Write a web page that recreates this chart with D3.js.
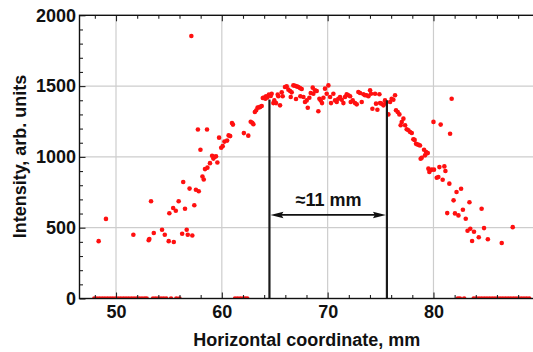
<!DOCTYPE html>
<html>
<head>
<meta charset="utf-8">
<script src="https://cdn.jsdelivr.net/npm/d3@7"></script>
<style>
  html, body { margin: 0; padding: 0; background: #fff; }
  svg { display: block; }
  text { font-family: "Liberation Sans", Arial, sans-serif; font-weight: bold; }
</style>
</head>
<body>
<svg id="chart" width="533" height="352"></svg>
<script>
// ---------------- data ----------------
const pointX = [
  48.36, 49.05, 51.64, 53.09, 53.15, 53.31, 53.57, 54.35, 54.61, 54.98,
  55.04, 55.40, 55.46, 55.65, 55.92, 56.25, 56.35, 56.52, 56.68, 56.78,
  56.95, 57.12, 57.21, 57.40, 57.55, 57.74, 57.82, 57.98, 58.17, 58.29,
  58.41, 58.60, 58.64, 58.88, 59.08, 59.20, 59.30, 59.45, 59.58, 59.74,
  59.94, 60.08, 60.25, 60.50, 60.64, 60.79, 60.96, 61.05, 62.08, 62.50,
  62.73, 62.88, 62.98, 63.12, 63.25, 63.38, 63.50, 63.62, 63.77, 63.87,
  63.99, 64.12, 64.18, 64.30, 64.45, 64.62, 64.71, 64.87, 64.96, 65.12,
  65.28, 65.34, 65.50, 65.66, 65.75, 65.97, 66.13, 66.29, 66.45, 66.51,
  66.60, 66.76, 66.92, 67.01, 67.08, 67.23, 67.39, 67.42, 67.55, 67.71,
  67.86, 68.02, 68.12, 68.27, 68.40, 68.59, 68.65, 68.81, 68.97, 69.12,
  69.22, 69.34, 69.47, 69.60, 69.75, 69.91, 70.07, 70.23, 70.32, 70.54,
  70.70, 70.86, 71.01, 71.17, 71.33, 71.49, 71.64, 71.80, 71.96, 72.12,
  72.18, 72.37, 72.59, 72.75, 72.90, 73.06, 73.22, 73.38, 73.53, 73.69,
  73.85, 74.01, 74.10, 74.23, 74.48, 74.57, 74.70, 74.89, 74.95, 75.11,
  75.27, 75.42, 75.52, 75.74, 75.90, 76.05, 76.21, 76.37, 76.46, 76.62,
  76.78, 76.90, 77.00, 77.16, 77.32, 77.47, 77.63, 77.79, 77.95, 78.10,
  78.22, 78.35, 78.48, 78.60, 78.73, 78.79, 78.89, 79.11, 79.20, 79.30,
  79.46, 79.52, 79.61, 79.68, 79.83, 80.00, 80.05, 80.31, 80.46, 80.56,
  80.68, 80.87, 81.03, 81.13, 81.30, 81.50, 81.57, 81.72, 81.90, 82.03,
  82.18, 82.36, 82.61, 82.78, 83.05, 83.22, 83.40, 83.48, 83.65, 83.83,
  84.28, 84.55, 84.78, 85.14, 86.45, 87.49
];
const pointIntensity = [
  405, 562, 450, 412, 420, 687, 463, 485, 450, 405,
  602, 639, 399, 620, 687, 457, 823, 634, 485, 450,
  776, 1854, 445, 659, 768, 1194, 757, 1051, 862, 840,
  914, 1194, 924, 956, 1008, 988, 1000, 1004, 960, 1136,
  1065, 1076, 1108, 1115, 1152, 1147, 1239, 1228, 1168, 1150,
  1248, 1241, 1231, 1317, 1329, 1348, 1349, 1353, 1359, 1416,
  1420, 1411, 1428, 1420, 1440, 1430, 1446, 1380, 1399, 1380,
  1440, 1428, 1364, 1456, 1428, 1494, 1498, 1475, 1465, 1423,
  1456, 1505, 1503, 1409, 1498, 1494, 1486, 1428, 1479, 1423,
  1388, 1399, 1347, 1418, 1451, 1489, 1446, 1470, 1465, 1322,
  1411, 1399, 1380, 1418, 1482, 1446, 1505, 1423, 1380, 1446,
  1399, 1388, 1411, 1423, 1404, 1380, 1423, 1442, 1435, 1428,
  1388, 1399, 1380, 1371, 1458, 1451, 1388, 1442, 1435, 1435,
  1428, 1470, 1446, 1340, 1446, 1376, 1333, 1442, 1380, 1376,
  1364, 1399, 1380, 1300, 1388, 1411, 1404, 1435, 1329, 1317,
  1300, 1223, 1246, 1270, 1223, 1195, 1188, 1176, 1169, 1125,
  1120, 1093, 1088, 1085, 1080, 987, 994, 1051, 1011, 1034,
  1027, 917, 893, 905, 910, 1247, 910, 853, 858, 928,
  1228, 839, 933, 900, 603, 811, 1164, 1411, 693, 601,
  752, 587, 775, 627, 563, 478, 680, 493, 406, 471,
  433, 634, 497, 418, 392, 504
];
// positions (mm) of the samples that read zero intensity
const zeroX = [
  47.95, 48.20, 48.45, 48.70, 48.95, 49.20, 49.45, 49.70, 49.95, 50.20,
  50.45, 50.70, 50.95, 51.20, 51.45, 51.70, 51.95, 52.20, 52.45, 52.70,
  52.90, 53.50, 53.75, 54.00, 54.25, 54.50, 54.75, 55.20, 55.70, 56.00,
  61.25, 61.50, 61.75, 62.00, 62.20, 62.40,
  82.30, 82.50, 82.90, 83.80, 84.05, 84.30, 84.55, 84.80, 85.05, 85.30,
  85.55, 85.80, 86.05, 86.30, 86.55, 86.80, 87.05, 87.30, 87.55, 87.80,
  88.05, 88.30, 88.55, 88.80, 89.05
];
const xMajorTicks = [50, 60, 70, 80];
const xMinorTicks = [48, 52, 54, 56, 58, 62, 64, 66, 68, 72, 74, 76, 78, 82, 84, 86, 88];
const yMajorTicks = [0, 500, 1000, 1500, 2000];
const yMinorTicks = [100, 200, 300, 400, 600, 700, 800, 900, 1100, 1200, 1300, 1400, 1600, 1700, 1800, 1900];
const markerX = [64.5, 75.6];
const markerTop = [1405, 1400];
const arrowLevel = 590;
const arrowLabel = "≈11 mm";
const xTitle = "Horizontal coordinate, mm";
const yTitle = "Intensity, arb. units";

// ---------------- layout ----------------
const svg = d3.select("#chart");
const L = 79.5, R = 534, T = 15.3, B = 298.5;
const x = d3.scaleLinear().domain([46.55, 89.5]).range([L, R]);
const y = d3.scaleLinear().domain([0, 2000]).range([B, T]);

svg.append("defs").append("clipPath").attr("id", "plotclip")
  .append("rect").attr("x", L).attr("y", T).attr("width", R - L).attr("height", B - T);

// grid
const grid = svg.append("g").attr("stroke", "#cdcdcd").attr("stroke-width", 1.2);
grid.selectAll("line.gx").data(xMajorTicks).join("line")
  .attr("x1", d => x(d)).attr("x2", d => x(d)).attr("y1", T).attr("y2", B);
grid.selectAll("line.gy").data(yMajorTicks.filter(d => d > 0 && d < 2000)).join("line")
  .attr("x1", L).attr("x2", R).attr("y1", d => y(d)).attr("y2", d => y(d));

// points
const pts = svg.append("g").attr("clip-path", "url(#plotclip)").attr("fill", "#ff1010");
pts.selectAll("circle.p").data(d3.range(pointX.length)).join("circle")
  .attr("cx", i => x(pointX[i])).attr("cy", i => y(pointIntensity[i])).attr("r", 2.3);
pts.selectAll("circle.z").data(zeroX).join("circle")
  .attr("cx", d => x(d)).attr("cy", y(0)).attr("r", 2.3);

// markers
const mk = svg.append("g").attr("stroke", "#1a1a1a").attr("stroke-width", 2.2);
mk.selectAll("line").data(markerX).join("line")
  .attr("x1", d => x(d)).attr("x2", d => x(d))
  .attr("y1", y(0)).attr("y2", (d, i) => y(markerTop[i]));

// arrow
const ax1 = x(markerX[0]) + 1, ax2 = x(markerX[1]) - 1, ay = y(arrowLevel);
svg.append("line").attr("x1", ax1 + 10).attr("x2", ax2 - 10).attr("y1", ay).attr("y2", ay)
  .attr("stroke", "#111").attr("stroke-width", 1.8);
svg.append("path").attr("fill", "#111")
  .attr("d", `M${ax1},${ay} L${ax1 + 13},${ay - 3.2} L${ax1 + 11},${ay} L${ax1 + 13},${ay + 3.2} Z`);
svg.append("path").attr("fill", "#111")
  .attr("d", `M${ax2},${ay} L${ax2 - 13},${ay - 3.2} L${ax2 - 11},${ay} L${ax2 - 13},${ay + 3.2} Z`);
svg.append("text").attr("x", (x(markerX[0]) + x(markerX[1])) / 2 + 0.5).attr("y", ay - 9)
  .attr("text-anchor", "middle").attr("font-size", 18).attr("fill", "#111").text(arrowLabel);

// axes
function styleAxis(g) {
  g.select(".domain").remove();
  g.selectAll(".tick line").attr("stroke", "#222").attr("stroke-width", 1.1);
  g.selectAll("text").attr("font-size", 18).attr("fill", "#111")
    .attr("font-family", "'Liberation Sans', Arial, sans-serif").attr("font-weight", "bold");
}
svg.append("g").attr("transform", `translate(0,${B})`)
  .call(d3.axisBottom(x).tickValues(xMajorTicks).tickSize(-6).tickPadding(7).tickFormat(d3.format("d")))
  .call(styleAxis);
svg.append("g").attr("transform", `translate(0,${B})`)
  .call(d3.axisBottom(x).tickValues(xMinorTicks).tickSize(-3.5).tickFormat(""))
  .call(styleAxis);
svg.append("g").attr("transform", `translate(0,${T})`)
  .call(d3.axisTop(x).tickValues(xMajorTicks).tickSize(-6).tickFormat(""))
  .call(styleAxis);
svg.append("g").attr("transform", `translate(0,${T})`)
  .call(d3.axisTop(x).tickValues(xMinorTicks).tickSize(-3.5).tickFormat(""))
  .call(styleAxis);
svg.append("g").attr("transform", `translate(${L},0)`)
  .call(d3.axisLeft(y).tickValues(yMajorTicks).tickSize(-6).tickPadding(3.5).tickFormat(d3.format("d")))
  .call(styleAxis);
svg.append("g").attr("transform", `translate(${L},0)`)
  .call(d3.axisLeft(y).tickValues(yMinorTicks).tickSize(-3.5).tickFormat(""))
  .call(styleAxis);

// frame
svg.append("rect").attr("x", L).attr("y", T).attr("width", R - L).attr("height", B - T)
  .attr("fill", "none").attr("stroke", "#111").attr("stroke-width", 1.4);

// titles
svg.append("text").attr("x", (L + 533) / 2 + 0.5).attr("y", 346)
  .attr("text-anchor", "middle").attr("font-size", 18).attr("fill", "#111").text(xTitle);
svg.append("text").attr("transform", `translate(26,156.5) rotate(-90)`)
  .attr("text-anchor", "middle").attr("font-size", 18).attr("fill", "#111").text(yTitle);
</script>
</body>
</html>
